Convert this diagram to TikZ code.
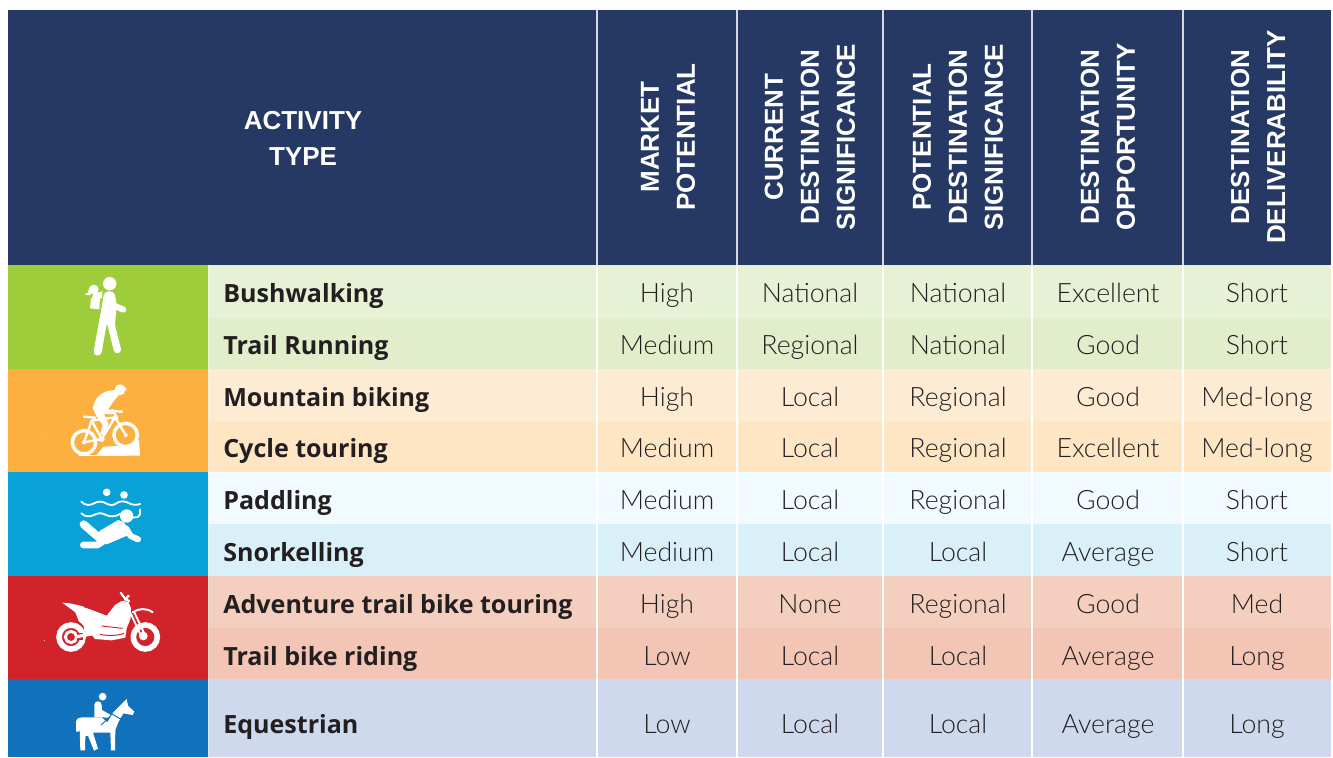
\documentclass[tikz,border=0pt]{standalone}
\usepackage{fontspec}
\setmainfont{Liberation Sans}
\newfontfamily\valfont{Lato Light}
\newfontfamily\labfont{Open Sans}
\definecolor{hdr}{HTML}{263964}
\definecolor{cgreen}{HTML}{9ECD3B}
\definecolor{corange}{HTML}{FCB040}
\definecolor{ccyan}{HTML}{09A2D8}
\definecolor{cred}{HTML}{D2232A}
\definecolor{cblue}{HTML}{1071BC}
\definecolor{ra}{HTML}{E7F1D5}
\definecolor{rb}{HTML}{E2EECB}
\definecolor{rc}{HTML}{FEEBD3}
\definecolor{rd}{HTML}{FEE6C5}
\definecolor{re}{HTML}{F1FAFE}
\definecolor{rf}{HTML}{D9F0F9}
\definecolor{rg}{HTML}{F4CFC0}
\definecolor{rh}{HTML}{F3C5B5}
\definecolor{ri}{HTML}{CFD9ED}
\definecolor{ink}{HTML}{231F20}
\tikzset{
  hdrtxt/.style={text=white,font=\fontsize{19.5pt}{27pt}\selectfont\bfseries,align=center,inner sep=0pt},
  rothdr/.style={hdrtxt,rotate=90},
  val/.style={text=ink,font=\fontsize{20pt}{24pt}\selectfont\valfont,anchor=base,inner sep=0pt},
  lab/.style={text=ink,font=\fontsize{18.8pt}{24pt}\selectfont\labfont\bfseries,anchor=base west,inner sep=0pt},
  wline/.style={draw=white,line cap=round,line join=round},
  sep/.style={draw=white,line width=1.1pt},
  hsep/.style={draw=white!80!hdr,line width=1.1pt},
  zoomscale/.style={x=0.25pt,y=-0.25pt},
}
\begin{document}
\begin{tikzpicture}[x=0.75pt,y=-0.75pt]
\useasboundingbox (0,0) rectangle (1333,757);
\fill[white] (0,0) rectangle (1333,757);
\fill[hdr] (8,10) rectangle (1331,265);
\fill[cgreen] (8,265) rectangle (208,369);
\fill[corange] (8,369) rectangle (208,472);
\fill[ccyan] (8,472) rectangle (208,576);
\fill[cred] (8,576) rectangle (208,679);
\fill[cblue] (8,679) rectangle (208,757);
\fill[ra] (208,265) rectangle (1331,318);
\fill[rb] (208,318) rectangle (1331,369);
\fill[rc] (208,369) rectangle (1331,421);
\fill[rd] (208,421) rectangle (1331,472);
\fill[re] (208,472) rectangle (1331,524);
\fill[rf] (208,524) rectangle (1331,576);
\fill[rg] (208,576) rectangle (1331,628);
\fill[rh] (208,628) rectangle (1331,679);
\fill[ri] (208,679) rectangle (1331,757);
\draw[white,opacity=.35,line width=.7pt] (208,265) -- (208,757);
\foreach \x in {597,737,883,1032,1183}{
  \draw[hsep] (\x,10) -- (\x,265);
  \draw[sep] (\x,265) -- (\x,757);
}
\node[hdrtxt] (hact) at (303,138.5) {ACTIVITY\\TYPE};
\node[rothdr] (h1) at (668,137) {MARKET\\POTENTIAL};
\node[rothdr] (h2) at (810,137) {CURRENT\\DESTINATION\\SIGNIFICANCE};
\node[rothdr] (h3) at (958,137) {POTENTIAL\\DESTINATION\\SIGNIFICANCE};
\node[rothdr] (h4) at (1108,137) {DESTINATION\\OPPORTUNITY};
\node[rothdr] (h5) at (1258,137) {DESTINATION\\DELIVERABILITY};
\foreach \n/\y/\name/\a/\b/\c/\d/\e in {
 1/302/Bushwalking/High/National/National/Excellent/Short,
 2/354/Trail Running/Medium/Regional/National/Good/Short,
 3/406/Mountain biking/High/Local/Regional/Good/Med-long,
 4/457/Cycle touring/Medium/Local/Regional/Excellent/Med-long,
 5/509/Paddling/Medium/Local/Regional/Good/Short,
 6/561/Snorkelling/Medium/Local/Local/Average/Short,
 7/613/Adventure trail bike touring/High/None/Regional/Good/Med,
 8/665/Trail bike riding/Low/Local/Local/Average/Long,
 9/733/Equestrian/Low/Local/Local/Average/Long}{
  \node[lab] (l\n) at (223,\y) {\name};
  \node[val] (a\n) at (667,\y) {\a};
  \node[val] (b\n) at (810,\y) {\b};
  \node[val] (c\n) at (958,\y) {\c};
  \node[val] (d\n) at (1108,\y) {\d};
  \node[val] (e\n) at (1257,\y) {\e};
}
% hiker
\begin{scope}[shift={(60,270)},zoomscale]
\fill[white] (149,41) circle (20);
\fill[white] (131,74) .. controls (138,60) and (160,60) .. (165,74) -- (170,105) -- (165,165) -- (116,165) -- cycle;
\draw[wline,line width=6pt] (130,150) -- (113,245);
\draw[wline,line width=5.5pt] (150,150) -- (172,239);
\draw[wline,line width=4.5pt] (165,108) -- (190,119);
\fill[white] (93,85) -- (120,80) -- (118,118) -- (90,115) -- cycle;
\fill[white] (102,58) circle (14);
\fill[white] (100,45) .. controls (88,45) and (86,60) .. (84,68) -- (74,73) .. controls (85,78) and (92,76) .. (98,70) -- cycle;
\fill[white] (100,70) -- (128,64) -- (125,85) -- (95,88) -- cycle;
\end{scope}
% bike
\begin{scope}[shift={(0,255)},zoomscale]
\draw[white,line width=2.6pt] (252,562) circle (35);
\draw[white,line width=2.6pt] (377,540) circle (35);
\fill[white] (235,600) -- (290,600) -- (310,575) -- (372,572) -- (400,570) -- (417,555) -- (420,602) -- (240,603) -- cycle;
\draw[wline,line width=1.8pt] (252,562) -- (275,497) -- (345,487) -- (377,540);
\draw[wline,line width=1.8pt] (252,562) -- (305,552) -- (345,487);
\draw[wline,line width=1.8pt] (275,497) -- (305,552);
\draw[wline,line width=1.8pt] (252,485) -- (285,488);
\draw[wline,line width=1.8pt] (337,465) -- (352,490);
\draw[wline,line width=1.8pt] (330,468) -- (366,470);
\fill[white] (305,552) circle (9);
\fill[white] (252,562) circle (6);
\fill[white] (377,540) circle (6);
\fill[white] (285,438) .. controls (295,420) and (310,407) .. (345,405) -- (356,420) -- (340,440) -- (325,462) -- (345,472) -- (335,478) -- (312,476) -- (325,505) -- (318,535) -- (300,540) -- (308,510) -- (290,485) -- (278,458) -- cycle;
\fill[white] (360,405) circle (16);
\fill[white] (345,398) .. controls (352,383) and (372,385) .. (381,406) -- (366,402) -- cycle;
\fill[white] (138,540) circle (1.5);
\end{scope}
% swimmer
\begin{scope}[shift={(0,465)},zoomscale]
\fill[white] (320,82) circle (11.5);
\fill[white] (372,90) circle (11.5);
\draw[wline,line width=1.4pt] (244,110) .. controls (255,122) and (270,122) .. (282,115) .. controls (294,108) and (306,108) .. (318,115) .. controls (330,122) and (342,122) .. (352,113) .. controls (364,107) and (376,108) .. (388,115) .. controls (398,121) and (410,120) .. (421,117);
\draw[wline,line width=1.4pt] (244,145) .. controls (255,156) and (270,156) .. (282,150) .. controls (294,143) and (306,143) .. (318,150) .. controls (330,156) and (345,156) .. (362,146);
\fill[white] (380,153) circle (20);
\draw[wline,line width=1.3pt] (398,158) -- (414,156) -- (420,148) -- (420,133);
\fill[white] (298,198) -- (355,165) -- (372,172) -- (393,207) -- (320,238) -- (300,225) -- cycle;
\draw[wline,line width=6pt] (251,178) -- (305,225);
\draw[wline,line width=5pt] (250,240) -- (292,240) -- (320,222);
\draw[wline,line width=4.5pt] (378,190) -- (392,213) -- (414,223);
\end{scope}
% motorbike
\begin{scope}[shift={(0,465)},zoomscale]
\draw[white,line width=4.2pt] (213,516) circle (36);
\draw[white,line width=2.2pt] (213,516) circle (17);
\fill[cred] (232,505) rectangle (250,525);
\draw[white,line width=4.2pt] (436,516) circle (36);
\fill[white] (430,513) circle (13);
\fill[white] (187,413) .. controls (210,414) and (235,420) .. (255,426) -- (320,452) -- (345,420) -- (365,408) -- (385,410) -- (393,430) -- (392,460) -- (380,490) -- (376,518) -- (335,526) -- (285,522) -- (262,492) -- (236,468) -- (226,442) -- cycle;
\fill[white] (250,478) -- (280,470) -- (300,500) -- (255,510) -- cycle;
\draw[white,line width=2.4pt] (225,516) -- (285,505);
\draw[wline,line width=1.6pt] (362,383) -- (376,402) -- (388,408);
\draw[wline,line width=1.8pt] (375,404) -- (386,392);
\draw[wline,line width=1.4pt] (392,445) -- (422,510);
\draw[wline,line width=1.4pt] (402,440) -- (435,510);
\draw[wline,line width=1.5pt] (398,442) .. controls (415,430) and (440,428) .. (458,442);
\draw[cred,line width=.7pt] (252,425) -- (322,449);
\draw[cred,line width=.7pt] (305,483) -- (368,490);
\draw[cred,line width=.7pt] (300,508) .. controls (330,515) and (360,510) .. (372,505);
\draw[white,line width=1.2pt] (300,518) -- (372,515);
\fill[white] (133,527) circle (1.5);
\end{scope}
% horse
\begin{scope}[shift={(0,465)},zoomscale]
\fill[white] (308,695) circle (11.5);
\fill[white] (283,720) .. controls (284,705) and (304,705) .. (305,720) -- (306,735) -- (331,749) -- (326,758) -- (303,757) -- (283,757) -- cycle;
\fill[white] (228,800) -- (228,770) .. controls (230,760) and (238,757) .. (246,757) -- (305,757) -- (322,772) -- (340,742) -- (380,702) -- (384,722) -- (403,740) -- (398,750) -- (370,745) -- (355,772) -- (346,795) -- (345,856) -- (333,856) -- (331,803) -- (279,803) -- (294,851) -- (282,857) -- (264,812) -- (256,814) -- (255,856) -- (241,856) -- (239,790) -- (237,800) -- cycle;
\draw[cblue,line width=.7pt] (331,744) -- (360,761) -- (380,752);
\draw[cblue,line width=.7pt] (330,755) -- (303,780);
\end{scope}
\end{tikzpicture}
\end{document}
